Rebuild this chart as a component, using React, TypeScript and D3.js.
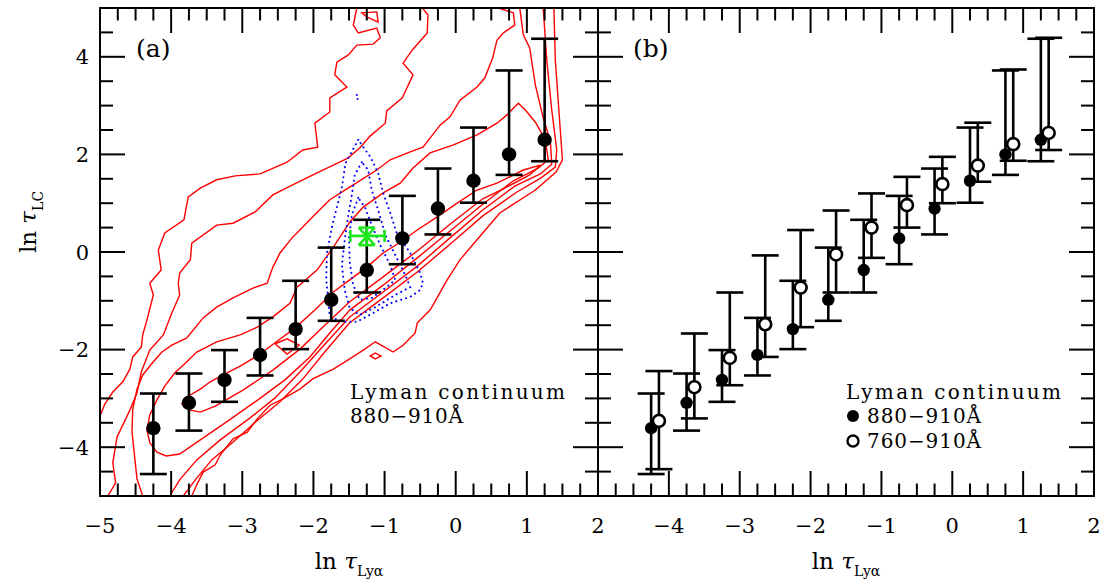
import React from "react";
import * as d3 from "d3";

// binned ln tau_LC vs ln tau_Lya, 880-910A
const binX = [-4.25, -3.75, -3.25, -2.75, -2.25, -1.75, -1.25, -0.75, -0.25, 0.25, 0.75, 1.25];
const lc880 = [-3.61, -3.09, -2.62, -2.11, -1.58, -0.98, -0.37, 0.28, 0.89, 1.46, 2.0, 2.3];
const lc880Hi = [-2.9, -2.49, -2.01, -1.35, -0.59, 0.09, 0.66, 1.15, 1.71, 2.55, 3.72, 4.37];
const lc880Lo = [-4.55, -3.66, -3.07, -2.53, -1.99, -1.41, -0.83, -0.25, 0.36, 1.01, 1.58, 1.86];

// 760-910A (panel b, open)
const openX = [-4.14, -3.64, -3.14, -2.64, -2.14, -1.64, -1.14, -0.64, -0.14, 0.36, 0.86, 1.36];
const lc760 = [-3.46, -2.77, -2.17, -1.48, -0.73, -0.05, 0.5, 0.96, 1.39, 1.77, 2.21, 2.44];
const lc760Hi = [-2.44, -1.67, -0.83, -0.07, 0.45, 0.85, 1.2, 1.54, 1.95, 2.65, 3.74, 4.39];
const lc760Lo = [-4.45, -3.41, -2.73, -2.15, -1.54, -0.83, -0.12, 0.5, 1.0, 1.44, 1.87, 2.09];

// observed point (green)
const obsX = [-1.25, -1.48, -1.0];
const obsY = [0.33, 0.14, 0.5];

// red density contours (open branches run off the frame)
const c1Upper = [[-1.39, 5.0], [-1.44, 4.65], [-1.37, 4.49], [-1.11, 4.59], [-1.06, 4.39], [-1.16, 4.26], [-1.39, 4.24], [-1.51, 4.04], [-1.67, 3.89], [-1.7, 3.63], [-1.53, 3.38], [-1.77, 3.16], [-1.77, 2.87], [-1.98, 2.64], [-1.94, 2.15], [-2.15, 2.09], [-2.37, 1.84], [-2.75, 1.6], [-3.1, 1.56], [-3.36, 1.48], [-3.59, 1.31], [-3.76, 1.13], [-3.82, 0.66], [-4.09, 0.39], [-4.18, 0.04], [-4.14, -0.37], [-4.3, -0.64], [-4.25, -0.88], [-4.34, -1.39], [-4.4, -1.7], [-4.42, -1.95], [-4.54, -2.15], [-4.58, -2.4], [-4.68, -2.66], [-4.82, -2.87], [-4.93, -3.11], [-5.0, -3.36]];
const c1Lower = [[-3.71, -5.0], [-3.64, -4.77], [-3.55, -4.51], [-3.38, -4.36], [-3.31, -4.16], [-3.13, -3.83], [-2.93, -3.69], [-2.79, -3.42], [-2.61, -3.14], [-2.43, -3.01], [-2.19, -2.81], [-2.01, -2.6], [-1.72, -2.4], [-1.49, -2.19], [-1.3, -2.01], [-1.13, -1.84], [-0.88, -2.05], [-0.74, -1.91], [-0.57, -1.66], [-0.54, -1.45], [-0.36, -1.19], [-0.12, -0.57], [0.06, -0.16], [0.38, 0.39], [0.62, 0.8], [1.12, 1.27], [1.41, 1.64], [1.5, 1.89], [1.46, 2.7], [1.4, 3.93], [1.38, 5.0]];
const c1Island = [[-1.32, 4.9], [-1.11, 4.92], [-1.09, 4.71], [-1.25, 4.82]];
const c1Diamond = [[-1.2, -2.13], [-1.13, -2.07], [-1.05, -2.13], [-1.13, -2.19]];

const c2Upper = [[-0.47, 5.0], [-0.39, 4.86], [-0.4, 4.49], [-0.61, 4.14], [-0.74, 3.87], [-0.6, 3.63], [-0.75, 3.16], [-0.97, 2.89], [-0.99, 2.64], [-1.2, 2.38], [-1.35, 2.13], [-1.51, 1.93], [-1.72, 1.78], [-1.95, 1.62], [-2.3, 1.37], [-2.57, 1.17], [-2.82, 0.82], [-3.13, 0.59], [-3.36, 0.55], [-3.71, 0.18], [-3.73, -0.16], [-3.88, -0.43], [-3.9, -0.64], [-3.88, -0.88], [-3.99, -1.25], [-4.11, -1.7], [-4.3, -2.01], [-4.42, -2.46], [-4.48, -2.89], [-4.58, -3.24], [-4.76, -3.79], [-4.82, -4.32], [-4.78, -4.73], [-4.89, -5.0]];
const c2Lower = [[-3.83, -5.0], [-3.66, -4.67], [-3.43, -4.26], [-3.14, -3.91], [-2.81, -3.48], [-2.47, -3.07], [-2.16, -2.62], [-1.83, -2.03], [-1.49, -1.45], [-1.02, -0.94], [-0.54, -0.41], [-0.08, 0.16], [0.38, 0.74], [0.86, 1.23], [1.2, 1.52], [1.4, 1.74], [1.42, 2.09], [1.35, 2.91], [1.28, 3.93], [1.23, 5.0]];

const c3Upper = [[0.6, 5.0], [0.81, 4.9], [0.83, 4.65], [0.67, 4.49], [0.58, 4.34], [0.52, 3.98], [0.41, 3.57], [0.3, 3.38], [0.06, 3.11], [-0.08, 2.77], [-0.22, 2.6], [-0.46, 2.15], [-0.64, 2.05], [-0.92, 1.89], [-1.11, 1.68], [-1.49, 1.33], [-1.77, 1.07], [-2.01, 0.72], [-2.19, 0.45], [-2.3, 0.29], [-2.47, -0.02], [-2.57, -0.31], [-2.65, -0.64], [-2.85, -0.74], [-3.13, -0.94], [-3.36, -1.13], [-3.55, -1.35], [-3.78, -1.76], [-3.99, -1.91], [-4.13, -2.05], [-4.25, -2.25], [-4.4, -2.52], [-4.48, -2.81], [-4.54, -3.22], [-4.55, -3.69], [-4.51, -4.24], [-4.48, -4.65], [-4.4, -5.0]];
const c3Lower = [[-4.02, -5.0], [-3.88, -4.67], [-3.64, -4.26], [-3.31, -3.85], [-2.89, -3.4], [-2.54, -2.99], [-2.19, -2.46], [-1.84, -1.89], [-1.49, -1.33], [-1.02, -0.82], [-0.54, -0.29], [-0.08, 0.29], [0.38, 0.86], [0.83, 1.35], [1.19, 1.6], [1.35, 1.8], [1.33, 2.27], [1.23, 2.75], [1.12, 3.42], [1.04, 4.18], [0.95, 4.45], [0.9, 5.0]];

const c4Loop = [[0.88, 3.05], [0.72, 2.81], [0.58, 2.64], [0.3, 2.4], [-0.04, 2.19], [-0.36, 2.03], [-0.6, 1.72], [-0.78, 1.41], [-1.02, 1.21], [-1.3, 0.92], [-1.49, 0.61], [-1.72, 0.1], [-1.95, -0.37], [-2.23, -0.72], [-2.33, -1.05], [-2.57, -1.33], [-2.79, -1.54], [-3.03, -1.7], [-3.36, -1.84], [-3.64, -2.05], [-3.78, -2.25], [-3.95, -2.48], [-4.09, -2.75], [-4.2, -3.03], [-4.3, -3.34], [-4.34, -3.65], [-4.3, -3.91], [-4.2, -4.1], [-4.07, -4.18], [-3.88, -4.14], [-3.59, -3.85], [-3.2, -3.46], [-2.78, -3.03], [-2.4, -2.62], [-2.05, -2.15], [-1.77, -1.66], [-1.49, -1.19], [-1.02, -0.68], [-0.54, -0.12], [-0.08, 0.43], [0.38, 0.98], [0.81, 1.46], [1.16, 1.72], [1.3, 1.89], [1.26, 2.3], [1.12, 2.66], [0.98, 2.91]];

const c5Loop = [[-3.85, -3.11], [-3.73, -2.93], [-3.59, -2.81], [-3.45, -2.66], [-3.27, -2.52], [-3.03, -2.34], [-2.79, -2.13], [-2.54, -1.86], [-2.26, -1.56], [-1.98, -1.19], [-1.72, -0.82], [-1.49, -0.57], [-1.25, -0.31], [-1.02, -0.02], [-0.78, 0.2], [-0.54, 0.45], [-0.26, 0.72], [0.02, 1.0], [0.3, 1.27], [0.58, 1.41], [0.76, 1.54], [0.95, 1.68], [1.19, 1.78], [1.04, 1.58], [0.69, 1.31], [0.38, 1.09], [-0.08, 0.57], [-0.54, 0.02], [-1.02, -0.51], [-1.49, -1.02], [-1.84, -1.5], [-2.19, -1.99], [-2.57, -2.42], [-2.99, -2.83], [-3.38, -3.16], [-3.59, -3.28], [-3.73, -3.24]];
const c6Diamond = [[-2.54, -1.88], [-2.37, -1.78], [-2.2, -1.91], [-2.37, -2.09]];

// blue dotted contours
const b1Loop = [[-1.37, 2.3], [-1.55, 1.82], [-1.6, 1.33], [-1.67, 0.92], [-1.74, 0.51], [-1.81, -0.02], [-1.82, -0.57], [-1.79, -0.98], [-1.77, -1.33], [-1.58, -1.43], [-1.39, -1.43], [-1.16, -1.25], [-0.92, -1.05], [-0.64, -0.92], [-0.5, -0.78], [-0.46, -0.64], [-0.5, -0.43], [-0.64, -0.02], [-0.83, 0.39], [-0.92, 0.8], [-1.02, 1.21], [-1.09, 1.62], [-1.2, 1.95], [-1.3, 2.15]];
const b2Loop = [[-1.32, 1.84], [-1.42, 1.58], [-1.46, 1.17], [-1.51, 0.76], [-1.56, 0.25], [-1.6, -0.27], [-1.56, -0.78], [-1.49, -1.15], [-1.35, -1.29], [-1.13, -1.13], [-0.85, -0.88], [-0.64, -0.72], [-0.71, -0.47], [-0.85, -0.06], [-0.99, 0.35], [-1.09, 0.86], [-1.18, 1.27], [-1.23, 1.68]];
const b3Loop = [[-1.37, 1.11], [-1.46, 0.76], [-1.5, 0.29], [-1.49, -0.2], [-1.44, -0.68], [-1.35, -0.98], [-1.18, -0.94], [-0.99, -0.74], [-0.85, -0.57], [-0.92, -0.27], [-1.06, 0.14], [-1.18, 0.55], [-1.27, 0.9]];
const b4Bit = [[-1.39, 3.22], [-1.37, 3.07]];

const xTicksA = [-5, -4, -3, -2, -1, 0, 1, 2];
const xTicksB = [-4, -3, -2, -1, 0, 1, 2];
const yTicks = [-4, -2, 0, 2, 4];

const W = 1103;
const H = 579;
const top = 8;
const bottom = 496;
const aLeft = 100;
const mid = 598;
const bRight = 1094;
const serif = "DejaVu Serif";

function fmt(v: number) {
  return v < 0 ? "\u2212" + Math.abs(v) : String(v);
}

function Frame({ x, y, clipId, leftLabels }: any) {
  const [x0, x1] = x.range();
  const minorX = d3.range(-5, 2.001, 0.25);
  const minorY = d3.range(-5, 5.001, 0.5);
  const isInt = (v: number) => Math.abs(v - Math.round(v)) < 1e-6;
  const isEven = (v: number) => isInt(v) && Math.round(v) % 2 === 0;
  return (
    <g stroke="#000" strokeWidth={2}>
      {minorX.map((v, i) => {
        const len = isInt(v) ? 25 : 12.5;
        return (
          <g key={"x" + i}>
            <line x1={x(v)} x2={x(v)} y1={bottom} y2={bottom - len} />
            <line x1={x(v)} x2={x(v)} y1={top} y2={top + len} />
          </g>
        );
      })}
      {minorY.map((v, i) => {
        const len = isEven(v) ? 25 : 13;
        return (
          <g key={"y" + i}>
            <line x1={x0} x2={x0 + len} y1={y(v)} y2={y(v)} />
            <line x1={x1} x2={x1 - len} y1={y(v)} y2={y(v)} />
          </g>
        );
      })}
      <rect x={x0} y={top} width={x1 - x0} height={bottom - top} fill="none" />
    </g>
  );
}

function ErrBars({ x, y, xs, ys, lo, hi, open, r }: any) {
  const cap = 13.5;
  return (
    <g>
      {xs.map((xv: number, i: number) => (
        <g key={i} stroke="#000" strokeWidth={2.6}>
          <line x1={x(xv)} x2={x(xv)} y1={y(hi[i])} y2={y(lo[i])} />
          <line x1={x(xv) - cap} x2={x(xv) + cap} y1={y(hi[i])} y2={y(hi[i])} />
          <line x1={x(xv) - cap} x2={x(xv) + cap} y1={y(lo[i])} y2={y(lo[i])} />
          <circle
            cx={x(xv)}
            cy={y(ys[i])}
            r={r}
            fill={open ? "#fff" : "#000"}
            strokeWidth={open ? 2.6 : 0}
          />
        </g>
      ))}
    </g>
  );
}

export default function App() {
  const xA = d3.scaleLinear().domain([-5, 2]).range([aLeft, mid]);
  const xB = d3.scaleLinear().domain([-5, 2]).range([mid, bRight]);
  const y = d3.scaleLinear().domain([-5, 5]).range([bottom, top]);

  const line = d3.line<number[]>().x((d) => xA(d[0])).y((d) => y(d[1]));
  const loop = d3
    .line<number[]>()
    .x((d) => xA(d[0]))
    .y((d) => y(d[1]))
    .curve(d3.curveLinearClosed);

  const redOpen = [c1Upper, c1Lower, c2Upper, c2Lower, c3Upper, c3Lower];
  const redClosed = [c1Island, c1Diamond, c4Loop, c5Loop, c6Diamond];
  const blue = [b1Loop, b2Loop, b3Loop];

  const gx = xA(obsX[0]);
  const gy = y(obsY[0]);
  const gCap = 8;

  return (
    <svg
      width={W}
      height={H}
      style={{ position: "absolute", left: 0, top: 0, background: "#fff" }}
      fontFamily={serif}
    >
      <defs>
        <clipPath id="clipA">
          <rect x={aLeft} y={top} width={mid - aLeft} height={bottom - top} />
        </clipPath>
      </defs>

      {/* panel a contours */}
      <g clipPath="url(#clipA)" fill="none">
        {redOpen.map((c, i) => (
          <path key={"ro" + i} d={line(c as any) || ""} stroke="#ff0000" strokeWidth={1.4} />
        ))}
        {redClosed.map((c, i) => (
          <path key={"rc" + i} d={loop(c as any) || ""} stroke="#ff0000" strokeWidth={1.4} />
        ))}
        {blue.map((c, i) => (
          <path
            key={"b" + i}
            d={loop(c as any) || ""}
            stroke="#0000ff"
            strokeWidth={2}
            strokeDasharray="0.1 5"
            strokeLinecap="round"
          />
        ))}
        <path
          d={line(b4Bit as any) || ""}
          stroke="#0000ff"
          strokeWidth={2}
          strokeDasharray="0.1 4"
          strokeLinecap="round"
        />
      </g>

      <ErrBars x={xA} y={y} xs={binX} ys={lc880} lo={lc880Lo} hi={lc880Hi} r={7.2} />

      {/* observed point */}
      <g stroke="#1ee61e" strokeWidth={2.6} fill="none">
        <line x1={xA(obsX[1])} x2={xA(obsX[2])} y1={gy} y2={gy} />
        <line x1={xA(obsX[1])} x2={xA(obsX[1])} y1={gy - 6} y2={gy + 6} />
        <line x1={xA(obsX[2])} x2={xA(obsX[2])} y1={gy - 6} y2={gy + 6} />
        <line x1={gx} x2={gx} y1={y(obsY[2])} y2={y(obsY[1])} />
        <line x1={gx - gCap} x2={gx + gCap} y1={y(obsY[2])} y2={y(obsY[2])} />
        <line x1={gx - gCap} x2={gx + gCap} y1={y(obsY[1])} y2={y(obsY[1])} />
        <line x1={gx - gCap} x2={gx + gCap} y1={y(obsY[2])} y2={y(obsY[1])} />
        <line x1={gx + gCap} x2={gx - gCap} y1={y(obsY[2])} y2={y(obsY[1])} />
      </g>

      {/* panel b */}
      <ErrBars x={xB} y={y} xs={binX} ys={lc880} lo={lc880Lo} hi={lc880Hi} r={6.2} />
      <ErrBars x={xB} y={y} xs={openX} ys={lc760} lo={lc760Lo} hi={lc760Hi} r={6} open />

      <Frame x={xA} y={y} />
      <Frame x={xB} y={y} />

      {/* tick labels */}
      <g fontSize={21} fill="#000">
        {xTicksA.map((v) => (
          <text key={"ta" + v} x={xA(v)} y={533} textAnchor="middle">
            {fmt(v)}
          </text>
        ))}
        {xTicksB.map((v) => (
          <text key={"tb" + v} x={xB(v)} y={533} textAnchor="middle">
            {fmt(v)}
          </text>
        ))}
        {yTicks.map((v) => (
          <text key={"ty" + v} x={89} y={y(v) + 7.5} textAnchor="end">
            {fmt(v)}
          </text>
        ))}
      </g>

      {/* axis titles */}
      <g fontSize={23} fill="#000">
        <text x={(aLeft + mid) / 2} y={569} textAnchor="middle">
          ln <tspan fontStyle="italic">τ</tspan>
          <tspan fontSize={14} dy={7}>Lyα</tspan>
        </text>
        <text x={(mid + bRight) / 2} y={569} textAnchor="middle">
          ln <tspan fontStyle="italic">τ</tspan>
          <tspan fontSize={14} dy={7}>Lyα</tspan>
        </text>
        <text transform={`translate(36,222) rotate(-90)`} textAnchor="middle">
          ln <tspan fontStyle="italic">τ</tspan>
          <tspan fontSize={14} dy={7}>LC</tspan>
        </text>
      </g>

      {/* panel labels and legends */}
      <g fill="#000">
        <text x={136} y={57} fontSize={25}>(a)</text>
        <text x={633} y={57} fontSize={25}>(b)</text>
        <text x={350} y={399} fontSize={20} textLength={215} lengthAdjust="spacing">
          Lyman continuum
        </text>
        <text x={350} y={423} fontSize={20} textLength={113} lengthAdjust="spacing">
          880−910Å
        </text>
        <text x={846} y={399} fontSize={20} textLength={215} lengthAdjust="spacing">
          Lyman continuum
        </text>
        <circle cx={853} cy={416} r={6} />
        <text x={867} y={423} fontSize={20} textLength={114} lengthAdjust="spacing">
          880−910Å
        </text>
        <circle cx={853} cy={441} r={5.5} fill="#fff" stroke="#000" strokeWidth={2.4} />
        <text x={867} y={448} fontSize={20} textLength={114} lengthAdjust="spacing">
          760−910Å
        </text>
      </g>
    </svg>
  );
}
